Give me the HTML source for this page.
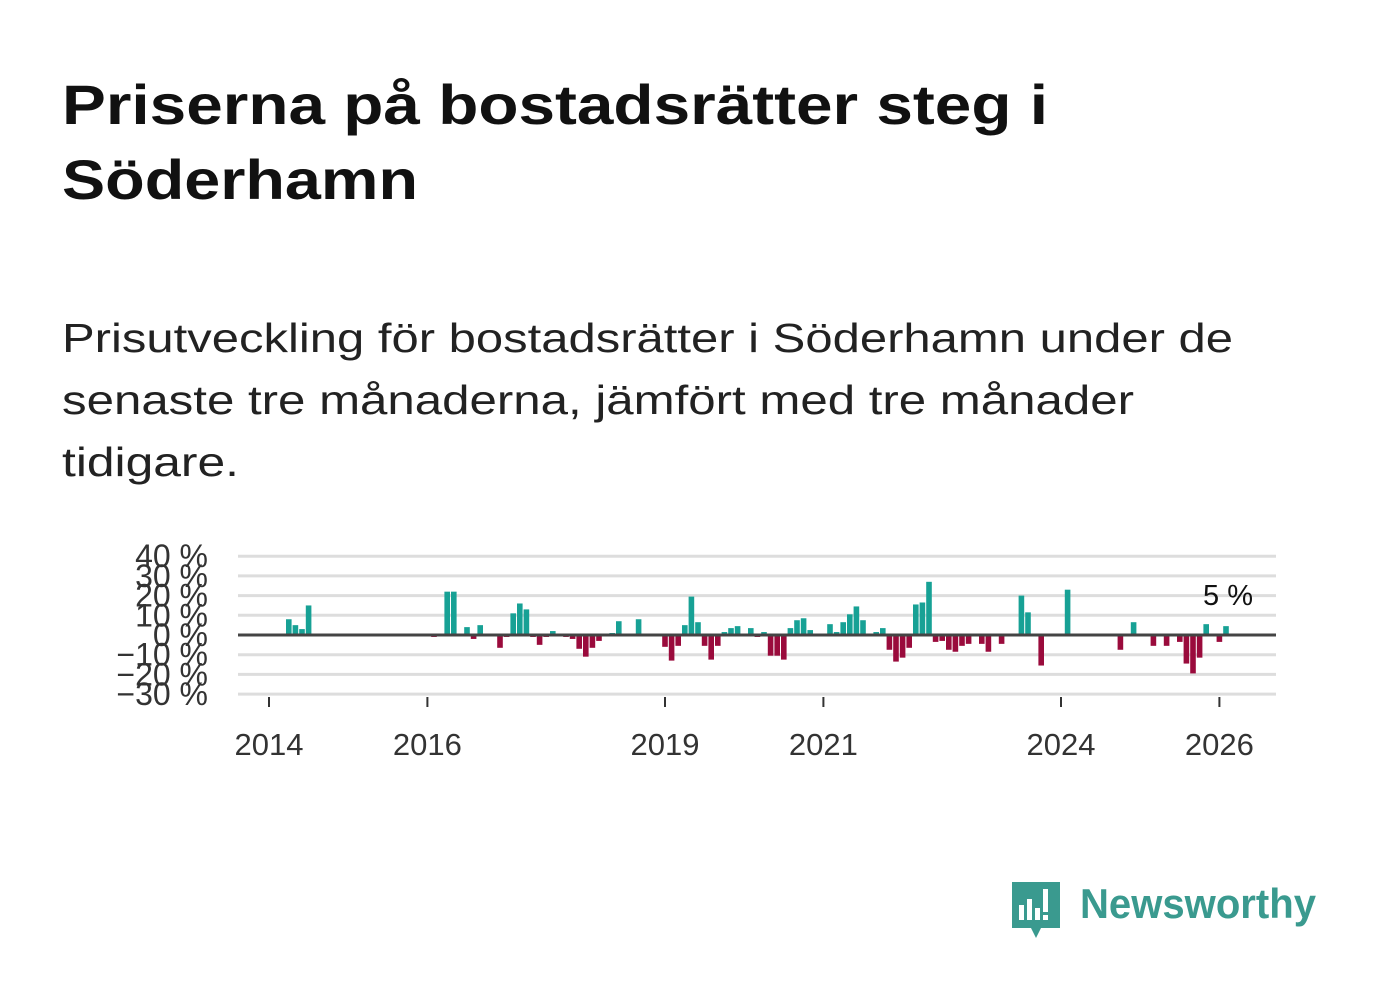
<!DOCTYPE html>
<html><head><meta charset="utf-8"><style>
body{margin:0;background:#fff;width:1382px;height:999px;overflow:hidden}
svg text{font-family:"Liberation Sans","DejaVu Sans",sans-serif}
</style></head><body>
<svg id="chart" width="1382" height="999" xmlns="http://www.w3.org/2000/svg">
<text x="62" y="124" font-size="56" font-weight="bold" fill="#111" textLength="986" lengthAdjust="spacingAndGlyphs">Priserna på bostadsrätter steg i</text>
<text x="62" y="199" font-size="56" font-weight="bold" fill="#111" textLength="356" lengthAdjust="spacingAndGlyphs">Söderhamn</text>
<text x="62" y="352" font-size="41" fill="#222" textLength="1171" lengthAdjust="spacingAndGlyphs">Prisutveckling för bostadsrätter i Söderhamn under de</text>
<text x="62" y="414" font-size="41" fill="#222" textLength="1072" lengthAdjust="spacingAndGlyphs">senaste tre månaderna, jämfört med tre månader</text>
<text x="62" y="476" font-size="41" fill="#222" textLength="177" lengthAdjust="spacingAndGlyphs">tidigare.</text>
<g id="grid"></g><g id="bars"></g><g id="axes"></g>
<text x="1253" y="605" font-size="29" fill="#111" text-anchor="end">5 %</text>
<g>
<path d="M1012 882 h48 v46 h-19 l-5 10 l-5 -10 h-19 z" fill="#3a9a8f"/>
<rect x="1019" y="905" width="5" height="15" fill="#fff"/><rect x="1027" y="899" width="5" height="21" fill="#fff"/><rect x="1035" y="908" width="5" height="12" fill="#fff"/><rect x="1043" y="889" width="5" height="23" fill="#fff"/><rect x="1043" y="915" width="5" height="5" fill="#fff"/>
<text x="1080" y="918" font-size="42" font-weight="bold" fill="#3a9a8f" textLength="236" lengthAdjust="spacingAndGlyphs">Newsworthy</text>
</g>
</svg>
<script>
// month index from Jan 2014, value in %
const months=[3,4,5,6,25,27,28,30,31,32,35,36,37,38,39,40,41,42,43,45,46,47,48,49,50,52,53,56,60,61,62,63,64,65,66,67,68,69,70,71,73,74,75,76,77,78,79,80,81,82,85,86,87,88,89,90,92,93,94,95,96,97,98,99,100,101,102,103,104,105,106,108,109,111,114,115,117,121,129,131,134,136,138,139,140,141,142,144,145];
const values=[8,5,3,15,-1,22,22,4,-2,5,-6.5,-1,11,16,13,-1,-5,-1,2,-1,-2,-7,-11,-6.5,-3,1,7,8,-6,-13,-5.5,5,19.5,6.5,-5.5,-12.5,-5.5,1.5,3.5,4.5,3.5,-1,1.5,-10.5,-10.5,-12.5,3.5,7.5,8.5,2.5,5.5,1.5,6.5,10.5,14.5,7.5,1.5,3.5,-7.5,-13.5,-11.5,-6.5,15.5,16.5,27,-3.5,-3,-7.5,-8.5,-5.5,-4.5,-4.5,-8.5,-4.5,20,11.5,-15.5,23,-7.5,6.5,-5.5,-5.5,-3.5,-14.5,-19.5,-11.5,5.5,-3.5,4.5];
const yTicks=[40,30,20,10,0,-10,-20,-30];
const yLabels=["40 %","30 %","20 %","10 %","0 %","−10 %","−20 %","−30 %"];
const xYears=[2014,2016,2019,2021,2024,2026];
const NS="http://www.w3.org/2000/svg";
const y=v=>635-v*1.97;
const x=m=>269+m*6.6;
function mk(t,a,p){const e=document.createElementNS(NS,t);for(const k in a)e.setAttribute(k,a[k]);p.appendChild(e);return e;}
const grid=document.getElementById('grid'),bars=document.getElementById('bars'),axes=document.getElementById('axes');
yTicks.forEach((t,i)=>{
 if(t!==0){const l=mk('line',{x1:238,x2:1276,y1:y(t),y2:y(t),stroke:'#ddd','stroke-width':3},grid);
 
 }
 const tx=mk('text',{x:208,y:y(t)+11,'font-size':32,fill:'#333','text-anchor':'end'},axes);
 tx.textContent=yLabels[i];
 
 
});
months.forEach((m,i)=>{
 const v=values[i];
 const r=mk('rect',{x:x(m)-2.8,width:5.6,y:v>=0?y(v):635,height:Math.abs(v)*1.97,fill:v>=0?'#17a195':'#9a0b3c'},bars);
 
 
});
const z=mk('line',{x1:238,x2:1276,y1:635,y2:635,stroke:'#444','stroke-width':3},axes);


xYears.forEach(yr=>{
 const xx=x((yr-2014)*12);
 const t=mk('line',{x1:xx,x2:xx,y1:697,y2:707,stroke:'#333','stroke-width':2},axes);
 
 
 const tx=mk('text',{x:xx,y:755,'font-size':31,fill:'#333','text-anchor':'middle'},axes);
 tx.textContent=yr;
 
 
});
</script>
</body></html>
